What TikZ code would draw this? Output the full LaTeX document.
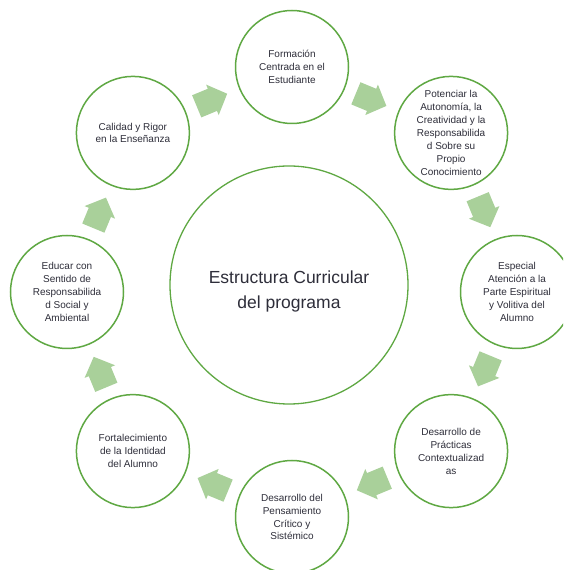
\documentclass[tikz,border=0pt]{standalone}
\usepackage{fontspec}
\setmainfont{Liberation Sans}
\usetikzlibrary{calc}
\definecolor{ringgreen}{HTML}{5FA843}
\definecolor{arrowgreen}{HTML}{A9D09A}
\definecolor{txt}{HTML}{2E2E3A}
\tikzset{
  smallcirc/.style={circle, draw=ringgreen, line width=1.5pt, fill=white,
    minimum size=113pt, inner sep=0pt, align=center, text=txt,
    font=\fontsize{10}{12.9}\selectfont},
  bigcirc/.style={circle, draw=ringgreen, line width=1.3pt, fill=white,
    minimum size=238pt, inner sep=0pt},
  bigtext/.style={align=center, text=txt, font=\fontsize{17.5}{25}\selectfont},
  cyclearrow/.style={fill=arrowgreen, draw=none}
}
\begin{document}
\begin{tikzpicture}[x=1pt,y=1pt]
\useasboundingbox (0,0) rectangle (563,570);
\clip (0,0) rectangle (563,570);
\coordinate (C) at (292,278);
% central node
\node[bigcirc, label={[bigtext, yshift=-6pt]center:Estructura Curricular\\del programa}] (center) at (289,285) {};
% ring nodes
\node[smallcirc] (n1) at ($(C)+(90:225)$) {Formación\\Centrada en el\\Estudiante};
\node[smallcirc] (n2) at ($(C)+(45:225)$) {Potenciar la\\Autonomía, la\\Creatividad y la\\Responsabilida\\d Sobre su\\Propio\\Conocimiento};
\node[smallcirc] (n3) at ($(C)+(0:225)$) {Especial\\Atención a la\\Parte Espiritual\\y Volitiva del\\Alumno};
\node[smallcirc] (n4) at ($(C)+(-45:225)$) {Desarrollo de\\Prácticas\\Contextualizad\\as};
\node[smallcirc] (n5) at ($(C)+(-90:225)$) {Desarrollo del\\Pensamiento\\Crítico y\\Sistémico};
\node[smallcirc] (n6) at ($(C)+(-135:225)$) {Fortalecimiento\\de la Identidad\\del Alumno};
\node[smallcirc] (n7) at ($(C)+(180:225)$) {Educar con\\Sentido de\\Responsabilida\\d Social y\\Ambiental};
\node[smallcirc] (n8) at ($(C)+(135:225)$) {Calidad y Rigor\\en la Enseñanza};
% block arrows between the circles (clockwise)
\foreach \a in {112.5,67.5,22.5,-22.5,-67.5,-112.5,-157.5,157.5}{
  \begin{scope}[shift={($(C)+(\a:208)$)}, rotate=\a-90]
    \fill[cyclearrow] (-17,-12) -- (0,-12) -- (0,-16.5) -- (16,0)
      -- (0,16.5) -- (0,12) -- (-17,12) -- cycle;
  \end{scope}
}
\end{tikzpicture}
\end{document}
